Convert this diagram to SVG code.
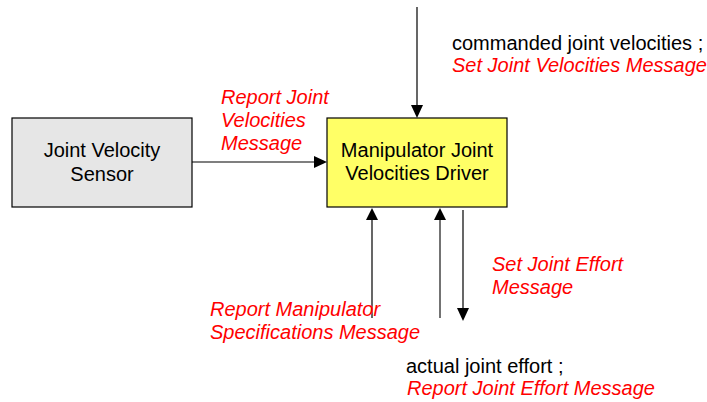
<svg xmlns="http://www.w3.org/2000/svg" width="707" height="402" viewBox="0 0 707 402">
<style>
.box{stroke:#000;stroke-width:1.2}
.t{font-family:"Liberation Sans",Arial,sans-serif;font-size:20px;fill:#000}
.r{font-family:"Liberation Sans",Arial,sans-serif;font-size:20px;font-style:italic;fill:#ff0000}
.c{stroke:#000;stroke-width:1.2;fill:none}
.g{stroke:#737373;stroke-width:2;fill:none}
.h{fill:#000}
</style>
<rect width="707" height="402" fill="#fff"/>
<g id="sensor">
<rect class="box" x="12" y="118" width="180" height="89" fill="#e6e6e6"/>
<text class="t" x="102" y="157" text-anchor="middle">Joint Velocity</text>
<text class="t" x="102" y="181" text-anchor="middle">Sensor</text>
</g>
<g id="driver">
<rect class="box" x="327" y="118" width="180" height="89" fill="#ffff66"/>
<text class="t" x="417" y="157" text-anchor="middle">Manipulator Joint</text>
<text class="t" x="417" y="180" text-anchor="middle">Velocities Driver</text>
</g>
<g id="connectors">
<line class="c" x1="192" y1="162" x2="315" y2="162"/>
<polygon class="h" points="314,156 327,162 314,168"/>
<line class="c" x1="417" y1="7" x2="417" y2="106"/>
<polygon class="h" points="411,105 423,105 417,118"/>
<line class="c" x1="372" y1="318" x2="372" y2="219"/>
<polygon class="h" points="366,220 378,220 372,208"/>
<line class="g" x1="440" y1="318" x2="440" y2="219"/>
<polygon class="h" points="434,220 446,220 440,208"/>
<line class="c" x1="463" y1="210" x2="463" y2="309"/>
<polygon class="h" points="457,308 469,308 463,321"/>
</g>
<g id="labels">
<text class="r" x="221" y="104">Report Joint</text>
<text class="r" x="221" y="127">Velocities</text>
<text class="r" x="221" y="150">Message</text>
<text class="t" x="452" y="50">commanded joint velocities ;</text>
<text class="r" x="452" y="72">Set Joint Velocities Message</text>
<text class="r" x="492" y="271">Set Joint Effort</text>
<text class="r" x="492" y="294">Message</text>
<text class="r" x="210" y="316">Report Manipulator</text>
<text class="r" x="210" y="339">Specifications Message</text>
<text class="t" x="406" y="373">actual joint effort ;</text>
<text class="r" x="407" y="395">Report Joint Effort Message</text>
</g>
</svg>
